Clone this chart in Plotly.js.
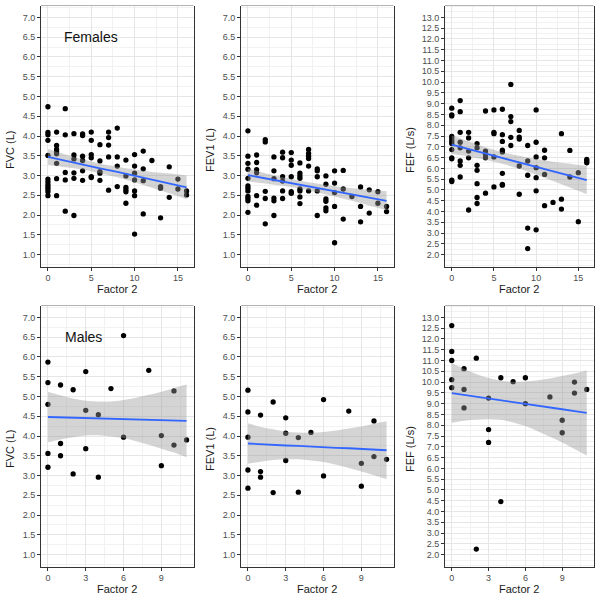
<!DOCTYPE html>
<html><head><meta charset="utf-8">
<script src="https://cdn.plot.ly/plotly-3.0.1.min.js"></script>
<style>html,body{margin:0;padding:0;background:#fff}#chart{width:600px;height:599px}</style>
</head><body><div id="chart"></div>
<script>
// ---------- Females ----------
const femFvcX = [0,0,0,0,0,0,0,0,0,0,0,0, 1,1,1,1,1,1,1,1, 2,2,2,2,2, 3,3,3,3,3,3, 4,4,4,4,4,4, 5,5,5,5,5,5, 6,6,6,6,6, 7,7,7,7,7, 8,8,8,8, 9,9,9,9,9,9, 10,10,10,10,10,10,10, 11,11,11,11, 12, 13,13,13, 14,14, 15,15, 16,16];
const femFvcY = [4.74,4.09,4.03,3.89,3.51,2.91,2.84,2.77,2.71,2.66,2.59,2.49, 4.10,3.76,3.66,3.60,3.55,3.31,2.92,2.49, 4.69,4.03,3.08,2.89,2.10, 4.06,3.52,3.42,3.07,2.93,1.99, 4.05,4.01,3.49,3.38,3.12,2.88, 4.10,3.89,3.53,3.45,2.97,2.95, 3.78,3.37,3.10,3.06,2.88, 4.10,3.96,3.77,3.47,2.63, 4.20,3.47,3.24,2.72, 3.39,2.99,2.70,2.64,2.59,2.30, 3.53,3.24,3.06,2.89,2.61,2.49,1.52, 3.62,3.17,2.87,2.03, 3.38, 2.72,2.68,1.93, 3.22,2.45, 2.91,2.66, 2.61,2.51];

const femFev1X = [0,0,0,0,0,0,0,0,0,0,0,0, 1,1,1,1,1,1, 2,2,2,2,2, 3,3,3,3,3,3, 4,4,4,4,4,4, 5,5,5,5,5,5, 6,6,6,6,6,6,6,6, 7,7,7,7,7,7, 8,8,8,8,8, 9,9,9,9,9,9, 10,10,10,10,10, 11,11,11, 12, 13,13,13, 14,14, 15,15, 16,16];
const femFev1Y = [4.13,3.49,3.31,3.16,2.93,2.74,2.68,2.61,2.47,2.42,2.36,2.07, 3.52,3.33,3.15,3.07,2.49,2.25, 3.91,3.85,2.60,2.42,1.78, 3.47,3.12,2.92,2.43,2.36,1.99, 3.59,3.45,2.97,2.86,2.61,2.42, 3.58,3.39,3.26,2.97,2.59,2.55, 3.32,3.06,2.99,2.93,2.66,2.61,2.46,2.29, 3.66,3.56,3.49,3.43,3.24,2.61, 3.17,3.12,2.97,2.61,1.99, 2.99,2.78,2.41,2.35,2.18,2.11, 3.12,2.81,2.57,2.22,1.30, 3.13,2.66,1.90, 2.47, 2.71,2.22,1.83, 2.64,2.05, 2.59,2.30, 2.22,2.09];

const femFefX = [0,0,0,0,0,0,0,0,0,0,0,0, 1,1,1,1,1,1,1,1, 2,2,2,2,2, 3,3,3,3,3,3,3, 4,4,4,4,4, 5,5,5,5,5, 6,6,6,6,6,6,6,6, 7,7,7,7,7, 8,8,8,8,8, 9,9,9,9,9, 10,10,10,10,10,10,10, 11,11,11,11, 12, 13,13,13, 14,14, 15,15, 16,16,16];
const femFefY = [8.79,8.48,8.43,7.48,7.36,7.25,7.15,6.87,6.49,6.44,5.45,5.39, 9.14,8.63,7.67,7.21,6.95,6.34,6.14,5.60, 7.67,7.41,6.80,6.49,4.07, 7.15,6.95,6.14,5.91,5.29,4.65,4.37, 8.66,6.80,6.64,6.49,4.85, 8.71,7.67,7.61,6.53,5.14, 8.74,7.56,7.25,6.84,6.76,5.77,5.26,5.22, 9.89,8.40,8.17,7.44,7.06, 7.76,7.45,7.36,6.11,4.80, 7.06,6.34,5.68,3.23,2.28, 8.71,7.21,6.53,6.03,5.57,4.96,3.15, 6.84,6.49,5.72,4.27, 4.42, 7.61,4.57,4.11, 6.83,5.60, 5.80,3.53, 6.41,6.34,6.26];

// fitted lines and 95% bands (females)
const femFitX = [0,2,4,6,8,10,12,14,16];
const femFvcFit = [3.47,3.37,3.28,3.18,3.09,2.99,2.89,2.80,2.70];
const femFvcHi  = [3.67,3.53,3.41,3.30,3.22,3.15,3.09,3.05,3.00];
const femFvcLo  = [3.27,3.21,3.15,3.06,2.96,2.83,2.69,2.55,2.40];
const femFev1Fit = [3.01,2.93,2.85,2.77,2.69,2.60,2.52,2.44,2.36];
const femFev1Hi  = [3.17,3.06,2.96,2.87,2.80,2.73,2.68,2.64,2.60];
const femFev1Lo  = [2.85,2.80,2.74,2.67,2.58,2.47,2.36,2.24,2.12];
const femFefFit = [7.10,6.89,6.69,6.48,6.28,6.07,5.86,5.66,5.45];
const femFefHi  = [7.54,7.24,6.98,6.75,6.58,6.43,6.31,6.21,6.10];
const femFefLo  = [6.66,6.54,6.40,6.21,5.98,5.71,5.41,5.11,4.80];

// ---------- Males ----------
const maleX = [0,0,0,0,0, 1,1,1, 2,2, 3,3,3, 4,4, 5, 6,6, 8, 9,9, 10,10, 11];
const maleFvcY  = [5.87,5.35,4.80,3.56,3.21, 5.29,3.81,3.50, 5.17,3.04, 5.63,4.65,3.68, 4.54,2.96, 5.20, 6.54,3.97, 5.66, 4.01,3.25, 5.14,3.77, 3.90];
const maleFev1Y = [5.16,4.61,3.97,3.14,2.68, 4.53,3.10,2.96, 4.86,2.57, 4.46,4.07,3.38, 3.96,2.58, 4.09, 4.92,2.99, 4.63, 3.31,2.73, 4.38,3.48, 3.41];
const maleFefY  = [12.62,11.42,11.00,10.11,9.74, 10.62,9.66,8.80, 11.11,2.26, 9.26,7.80,7.20, 10.20,4.46, 10.02, 10.20,9.00, 9.31, 8.23,7.65, 10.00,9.49, 9.66];

const maleFitX = [0,1,2,3,4,5,6,7,8,9,10,11];
const maleFvcFit = [4.48,4.47,4.46,4.45,4.44,4.43,4.43,4.42,4.41,4.40,4.39,4.38];
const maleFvcHi  = [5.12,5.03,4.95,4.89,4.87,4.87,4.91,4.97,5.04,5.12,5.21,5.30];
const maleFvcLo  = [3.84,3.91,3.97,4.01,4.02,3.99,3.95,3.87,3.78,3.68,3.58,3.46];
const maleFev1Fit = [3.81,3.79,3.78,3.76,3.75,3.73,3.72,3.70,3.69,3.67,3.66,3.64];
const maleFev1Hi  = [4.32,4.23,4.17,4.11,4.09,4.08,4.10,4.14,4.19,4.24,4.31,4.37];
const maleFev1Lo  = [3.30,3.35,3.39,3.41,3.41,3.38,3.34,3.27,3.19,3.10,3.01,2.91];
const maleFefFit = [9.49,9.41,9.32,9.24,9.16,9.07,8.99,8.90,8.82,8.74,8.65,8.57];
const maleFefHi  = [10.87,10.61,10.38,10.19,10.07,10.01,10.03,10.08,10.17,10.28,10.40,10.54];
const maleFefLo  = [8.11,8.21,8.26,8.29,8.25,8.13,7.96,7.72,7.47,7.20,6.90,6.60];

// tick labels
const volTicks = [1.0,1.5,2.0,2.5,3.0,3.5,4.0,4.5,5.0,5.5,6.0,6.5,7.0];
const fefTicks = [2.0,2.5,3.0,3.5,4.0,4.5,5.0,5.5,6.0,6.5,7.0,7.5,8.0,8.5,9.0,9.5,10.0,10.5,11.0,11.5,12.0,12.5,13.0];
const femXTicks = [0,5,10,15];
const maleXTicks = [0,3,6,9];

const yTitles = ['FVC (L)','FEV1 (L)','FEF (L/s)','FVC (L)','FEV1 (L)','FEF (L/s)'];
const xTitle = 'Factor 2';
const groupLabels = ['Females','Males'];

const panels = [
  {x:femFvcX,  y:femFvcY,  fx:femFitX, fit:femFvcFit,  hi:femFvcHi,  lo:femFvcLo},
  {x:femFev1X, y:femFev1Y, fx:femFitX, fit:femFev1Fit, hi:femFev1Hi, lo:femFev1Lo},
  {x:femFefX,  y:femFefY,  fx:femFitX, fit:femFefFit,  hi:femFefHi,  lo:femFefLo},
  {x:maleX, y:maleFvcY,  fx:maleFitX, fit:maleFvcFit,  hi:maleFvcHi,  lo:maleFvcLo},
  {x:maleX, y:maleFev1Y, fx:maleFitX, fit:maleFev1Fit, hi:maleFev1Hi, lo:maleFev1Lo},
  {x:maleX, y:maleFefY,  fx:maleFitX, fit:maleFefFit,  hi:maleFefHi,  lo:maleFefLo}
];

const W = 600, H = 599;
const colPx = [[41,193.5],[241,393.5],[445,593.5]];
const rowPx = [[5.5,266.5],[305.5,566.5]];
const FONT = '"Liberation Sans", Arial, sans-serif';

const data = [];
const layout = {
  width: W, height: H, margin:{l:0,r:0,t:0,b:0},
  paper_bgcolor:'#fff', plot_bgcolor:'#fff', showlegend:false,
  font:{family:FONT, color:'#222'},
  shapes:[], annotations:[]
};

panels.forEach((p, i) => {
  const s = i === 0 ? '' : String(i+1);
  const xa = 'x' + s, ya = 'y' + s;
  const row = Math.floor(i/3), col = i % 3;
  const isFef = col === 2;
  const isMale = row === 1;

  data.push({type:'scatter', mode:'markers', x:p.x, y:p.y, xaxis:xa, yaxis:ya,
    marker:{color:'#000', size:5.3, line:{width:0}}, hoverinfo:'skip'});
  data.push({type:'scatter', mode:'lines', x:p.fx, y:p.lo, xaxis:xa, yaxis:ya,
    line:{width:0, shape:'spline', smoothing:1}, hoverinfo:'skip'});
  data.push({type:'scatter', mode:'lines', x:p.fx, y:p.hi, xaxis:xa, yaxis:ya,
    fill:'tonexty', fillcolor:'rgba(153,153,153,0.42)',
    line:{width:0, shape:'spline', smoothing:1}, hoverinfo:'skip'});
  data.push({type:'scatter', mode:'lines', x:p.fx, y:p.fit, xaxis:xa, yaxis:ya,
    line:{color:'#3366FF', width:1.8}, hoverinfo:'skip'});

  const xd = [colPx[col][0]/W, colPx[col][1]/W];
  const yd = [1 - rowPx[row][1]/H, 1 - rowPx[row][0]/H];
  const yt = isFef ? fefTicks : volTicks;
  const xt = isMale ? maleXTicks : femXTicks;

  layout['xaxis'+s] = {
    domain: xd, anchor: ya,
    range: isMale ? [-0.55, 11.55] : [-0.8, 16.8],
    tickmode:'array', tickvals: xt, ticktext: xt.map(String),
    ticks:'outside', ticklen:3, tickwidth:1, tickcolor:'#333',
    tickfont:{size:9, color:'#4d4d4d', family:FONT},
    showgrid:true, gridcolor:'#e6e6e6', gridwidth:1,
    minor:{tick0:0, dtick: isMale ? 1.5 : 2.5, showgrid:true, gridcolor:'#f2f2f2', gridwidth:1, ticklen:0},
    showline:true, linecolor:'#333', linewidth:1, mirror:false,
    zeroline:false, fixedrange:true
  };
  layout['yaxis'+s] = {
    domain: yd, anchor: xa,
    range: isFef ? [1.45, 13.55] : [0.7, 7.3],
    tickmode:'array', tickvals: yt, ticktext: yt.map(v => v.toFixed(1)),
    ticks:'outside', ticklen:3, tickwidth:1, tickcolor:'#333',
    tickfont:{size:9, color:'#4d4d4d', family:FONT},
    showgrid:true, gridcolor:'#e6e6e6', gridwidth:1,
    minor:{tick0:0, dtick:0.25, showgrid:true, gridcolor:'#f2f2f2', gridwidth:1, ticklen:0},
    showline:true, linecolor:'#333', linewidth:1, mirror:true,
    zeroline:false, fixedrange:true
  };

  // light top border
  layout.shapes.push({type:'line', xref:xa+' domain', yref:ya+' domain',
    x0:0, x1:1, y0:1, y1:1, line:{color:'#b3b3b3', width:1}});

  // axis titles
  layout.annotations.push({xref:'paper', yref:'paper',
    x:(xd[0]+xd[1])/2, y: 1 - (row === 0 ? 289 : 588.5)/H,
    xanchor:'center', yanchor:'middle', showarrow:false,
    text:xTitle, font:{size:11, color:'#1a1a1a', family:FONT}});
  layout.annotations.push({xref:'paper', yref:'paper',
    x: (col*200 + 10)/W, y: 1 - (row === 0 ? 150 : 449)/H,
    xanchor:'center', yanchor:'middle', showarrow:false, textangle:-90,
    text:yTitles[i], font:{size:11, color:'#1a1a1a', family:FONT}});
});

layout.annotations.push({xref:'x', yref:'y', x:5, y:6.5, showarrow:false,
  xanchor:'center', yanchor:'middle', text:groupLabels[0], font:{size:14, color:'#111', family:FONT}});
layout.annotations.push({xref:'x4', yref:'y4', x:2.8, y:6.5, showarrow:false,
  xanchor:'center', yanchor:'middle', text:groupLabels[1], font:{size:14, color:'#111', family:FONT}});

Plotly.newPlot('chart', data, layout, {staticPlot:true, displayModeBar:false});
</script>
</body></html>
